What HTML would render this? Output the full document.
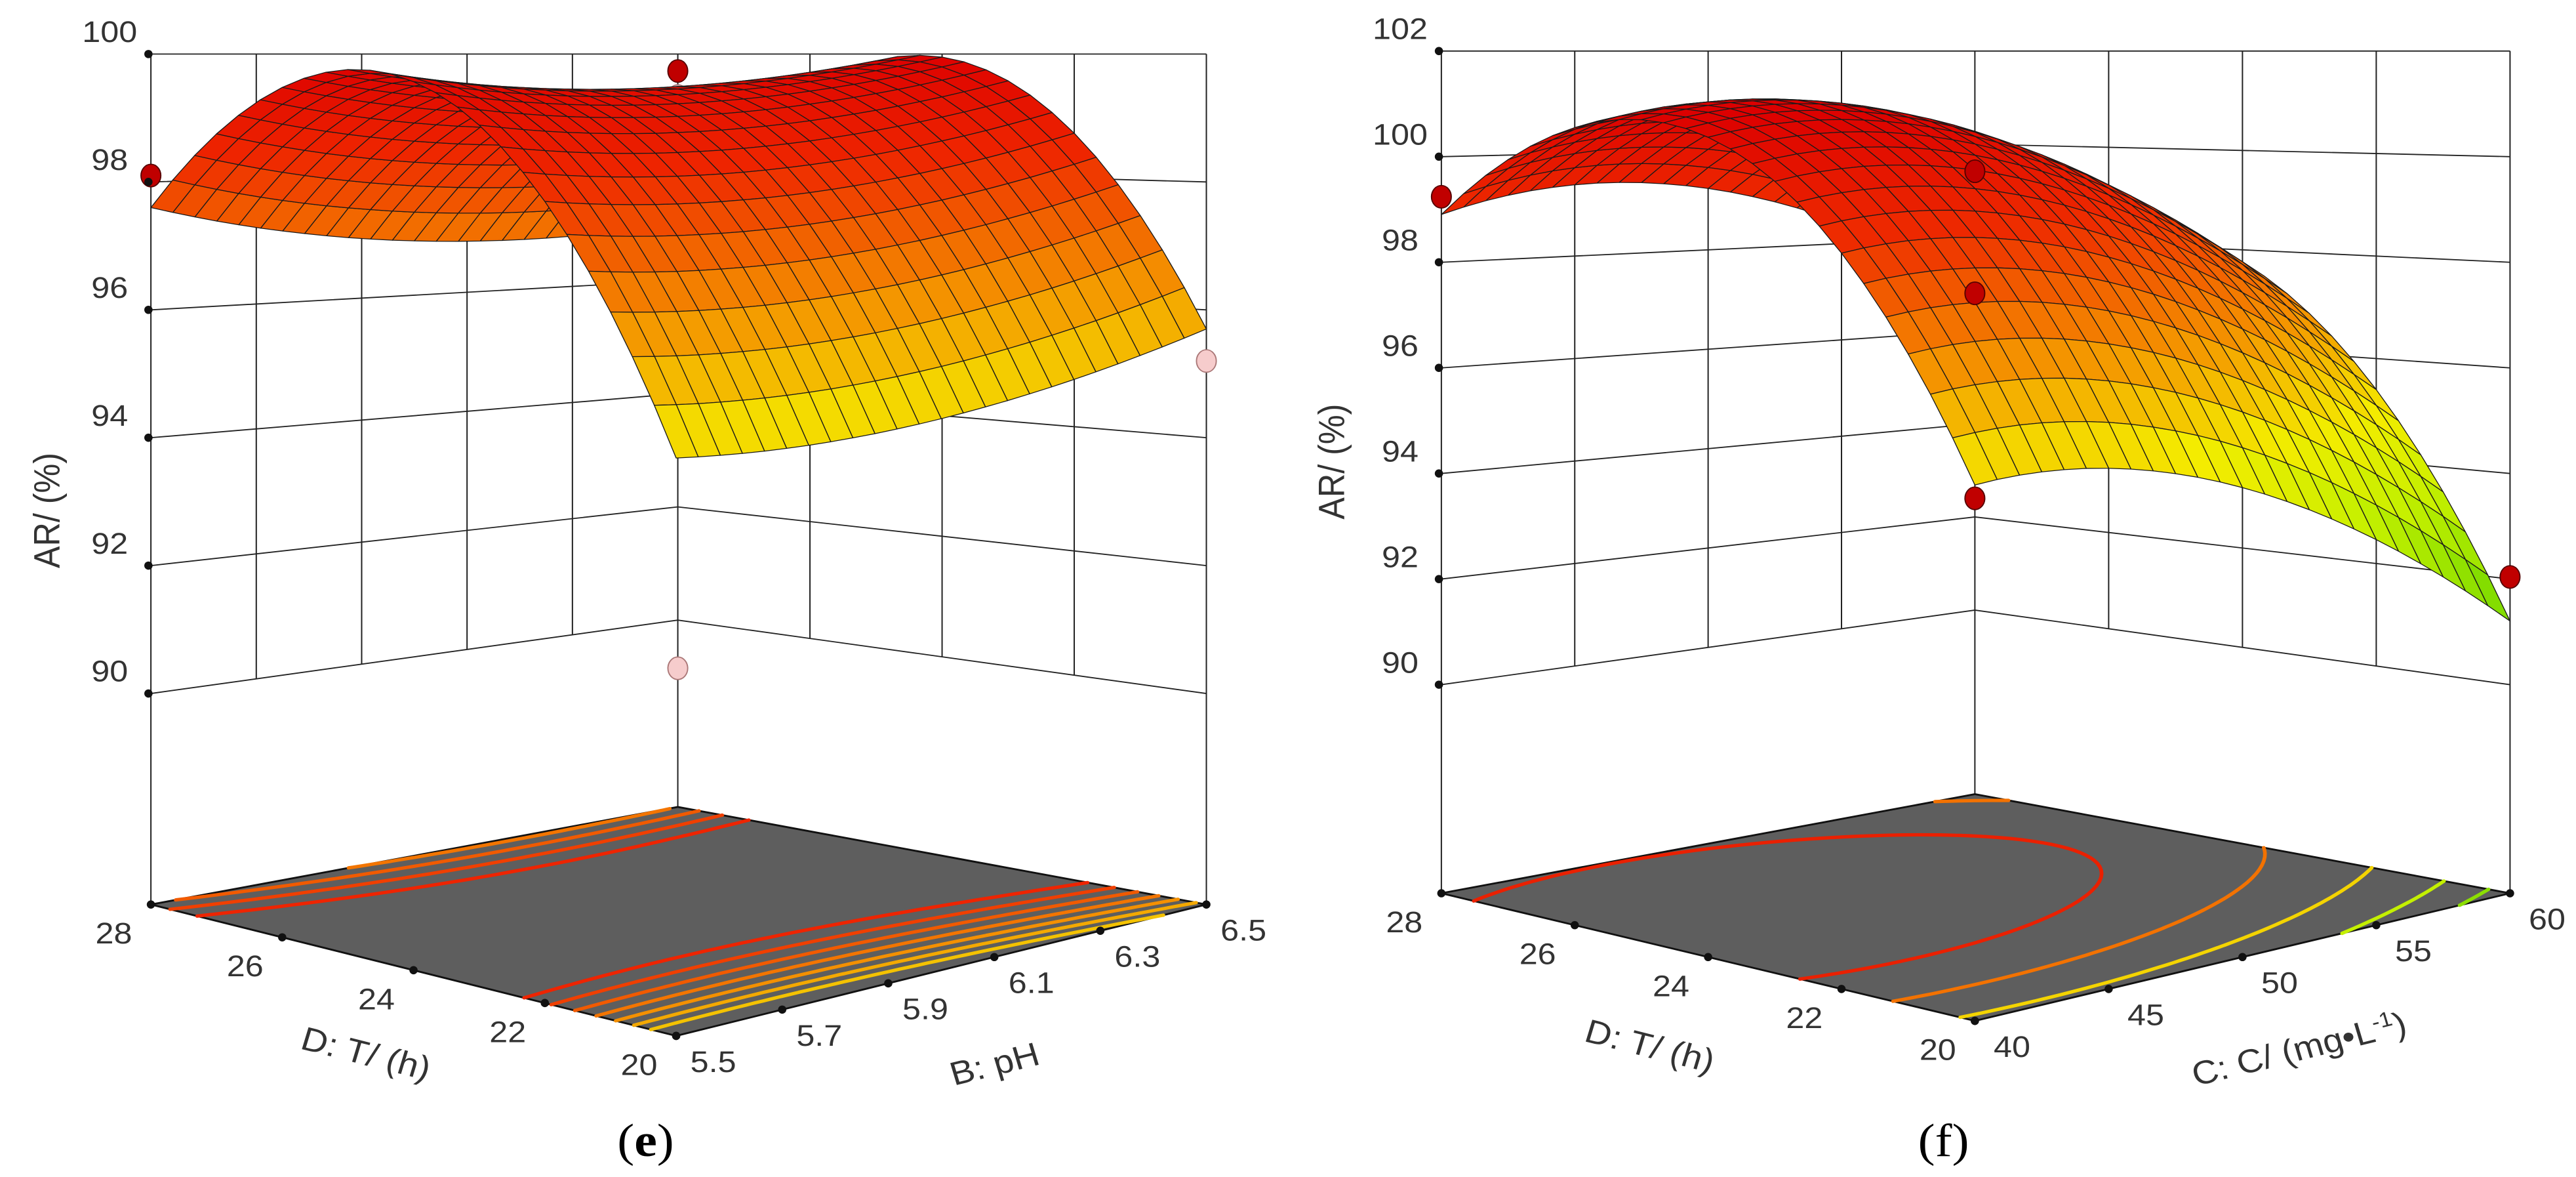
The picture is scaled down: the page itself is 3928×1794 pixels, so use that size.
<!DOCTYPE html>
<html><head><meta charset="utf-8">
<style>
html,body{margin:0;padding:0;background:#fff;}
#wrap{width:3928px;height:1794px;display:flex;overflow:hidden;}
svg{display:block;}
text{font-family:"Liberation Sans",sans-serif;fill:#333;}
</style></head>
<body>
<div id="wrap">
<svg id="pe" viewBox="0 0 1562 1568" preserveAspectRatio="none" width="1964" height="1794"></svg>
<svg id="pf" viewBox="0 0 1562 1568" preserveAspectRatio="none" width="1964" height="1794"></svg>
</div>
<script>
// ---------- Panel (e) data ----------
const eTicksZ = [90, 92, 94, 96, 98, 100];
const eTicksT = [20, 22, 24, 26, 28];
const eTicksPH = [5.5, 5.7, 5.9, 6.1, 6.3, 6.5];
// quadratic model in coded units: [b0, bT, bX, bTX, bTT, bXX]
const eCoef = [99.45, 1.05, 0.1, -0.4, -3.6, 0.4];
const eLevels = [95.5, 96.0, 96.5, 97.0, 97.5, 98.0, 98.5];
const eDotT = [28, 28, 28, 20, 28];
const eDotX = [5.5, 6.5, 6.5, 6.5, 6.5];
const eDotZ = [98.1, 99.7, 99.26, 95.2, 89.15];
const eDotKind = ["red", "red", "pinkhidden", "pink", "pink"];

// ---------- Panel (f) data ----------
const fTicksZ = [90, 92, 94, 96, 98, 100, 102];
const fTicksT = [20, 22, 24, 26, 28];
const fTicksC = [40, 45, 50, 55, 60];
const fCoef = [100.46, 2.425, -1.425, 0.475, -3.65, -1.28];
const fLevels = [92.0, 93.5, 95.5, 97.5, 99.5];
const fDotT = [28, 28, 28, 28, 20];
const fDotX = [40, 60, 60, 60, 60];
const fDotZ = [99.24, 99.42, 96.8, 92.4, 92.04];
const fDotKind = ["red", "red", "red", "red", "red"];

const NS = "http://www.w3.org/2000/svg";
function el(parent, tag, attrs, txt){
  const e = document.createElementNS(NS, tag);
  for (const k in attrs) e.setAttribute(k, attrs[k]);
  if (txt !== undefined) e.textContent = txt;
  parent.appendChild(e);
  return e;
}
function hex2rgb(h){return [parseInt(h.substr(1,2),16),parseInt(h.substr(3,2),16),parseInt(h.substr(5,2),16)];}
function cmap(stops, z){
  if (z <= stops[0][0]) return stops[0][1];
  for (let i=1;i<stops.length;i++){
    if (z <= stops[i][0]){
      const f=(z-stops[i-1][0])/(stops[i][0]-stops[i-1][0]);
      const c0=hex2rgb(stops[i-1][1]), c1=hex2rgb(stops[i][1]);
      return "rgb("+c0.map((v,j)=>Math.round(v+(c1[j]-v)*f)).join(",")+")";
    }
  }
  return stops[stops.length-1][1];
}

function drawPanel(svg, cfg){
  const g = cfg.geo;
  const S = {L:(g.L[1]-g.topY)/(g.ztop-g.zf), R:(g.R[1]-g.topY)/(g.ztop-g.zf), B:(g.B[1]-g.topY)/(g.ztop-g.zf)};
  S.F = S.L*S.R/S.B;
  function P(a,b,z){
    const w=[(1-a)*(1-b), a*(1-b), (1-a)*b, a*b];
    const x=w[0]*g.F[0]+w[1]*g.L[0]+w[2]*g.R[0]+w[3]*g.B[0];
    const yf=w[0]*g.F[1]+w[1]*g.L[1]+w[2]*g.R[1]+w[3]*g.B[1];
    const s=w[0]*S.F+w[1]*S.L+w[2]*S.R+w[3]*S.B;
    return [x, yf-(z-g.zf)*s];
  }
  const aOf = T => (T-cfg.tMin)/(cfg.tMax-cfg.tMin);
  const bOf = X => (X-cfg.xMin)/(cfg.xMax-cfg.xMin);
  const c = cfg.coef;
  function Z(a,b){const x1=2*a-1,x2=2*b-1;return c[0]+c[1]*x1+c[2]*x2+c[3]*x1*x2+c[4]*x1*x1+c[5]*x2*x2;}
  const pt = p => p[0].toFixed(1)+","+p[1].toFixed(1);

  const walls = el(svg,"g",{stroke:"#222","stroke-width":"1.6",fill:"none"});
  
  
  const zLo = cfg.ticksZ[0], zHi = cfg.ticksZ[cfg.ticksZ.length-1];
  cfg.ticksZ.forEach(z=>{
    const l=el(walls,"polyline",{points:[P(1,0,z),P(1,1,z),P(0,1,z)].map(pt).join(" ")});
    
    
  });
  cfg.ticksX.forEach(X=>{ const b=bOf(X); if(b<=0||b>=1) return;
    const l=el(walls,"line",{x1:P(1,b,zLo)[0],y1:P(1,b,zLo)[1],x2:P(1,b,zHi)[0],y2:P(1,b,zHi)[1]});
    
    
  });
  cfg.ticksT.forEach(T=>{ const a=aOf(T); if(a<=0||a>=1) return;
    const l=el(walls,"line",{x1:P(a,1,zLo)[0],y1:P(a,1,zLo)[1],x2:P(a,1,zHi)[0],y2:P(a,1,zHi)[1]});
    
    
  });
  [[1,0],[1,1],[0,1]].forEach(ab=>{
    const p0=P(ab[0],ab[1],g.zf), p1=P(ab[0],ab[1],zHi);
    const l=el(walls,"line",{x1:p0[0],y1:p0[1],x2:p1[0],y2:p1[1]});
    
    
  });

  const floor=el(svg,"polygon",{points:[P(0,0,g.zf),P(1,0,g.zf),P(1,1,g.zf),P(0,1,g.zf)].map(pt).join(" "),fill:"#5e5e5e",stroke:"#111","stroke-width":"2.5"});
  
  
  const cg=el(svg,"g",{"stroke-width":"4.5",fill:"none","stroke-linecap":"round"});
  
  
  const N=60;
  cfg.levels.forEach(lv=>{
    let d="";
    for(let i=0;i<N;i++)for(let j=0;j<N;j++){
      const a0=i/N,a1=(i+1)/N,b0=j/N,b1=(j+1)/N;
      const cs=[[a0,b0],[a1,b0],[a1,b1],[a0,b1]];
      const vs=cs.map(q=>Z(q[0],q[1]));
      const pts=[];
      for(let k=0;k<4;k++){const k2=(k+1)%4;const v0=vs[k],v1=vs[k2];
        if((v0-lv)*(v1-lv)<0){const f=(lv-v0)/(v1-v0);
          pts.push(P(cs[k][0]+(cs[k2][0]-cs[k][0])*f, cs[k][1]+(cs[k2][1]-cs[k][1])*f, g.zf));}}
      for(let k=0;k+1<pts.length;k+=2) d+="M"+pt(pts[k])+"L"+pt(pts[k+1]);
    }
    if(d){const p=el(cg,"path",{d:d,stroke:cmap(cfg.stops,lv)});
      
      }
  });

  function dot(i, parent){
    const a=aOf(cfg.dotT[i]), b=bOf(cfg.dotX[i]); const p=P(a,b,cfg.dotZ[i]);
    const kind=cfg.dotKind[i];
    const fill = kind==="red"?"#c00000":(kind==="pink"?"#f6cccc":"#b8a8b0");
    const e=el(parent,"ellipse",{cx:p[0],cy:p[1],rx:12,ry:15,fill:fill,stroke:kind==="red"?"#500":"#a77","stroke-width":"1.5"});
    
    
  }
  cfg.dotKind.forEach((k,i)=>{ if(k==="pinkhidden") dot(i, svg); });

  const sg=el(svg,"g",{stroke:"#1a1a1a","stroke-width":"1.1","stroke-linejoin":"round"});
  
  
  const M=24, quads=[];
  for(let i=0;i<M;i++)for(let j=0;j<M;j++){
    const a0=i/M,a1=(i+1)/M,b0=j/M,b1=(j+1)/M;
    const zs=[Z(a0,b0),Z(a1,b0),Z(a1,b1),Z(a0,b1)];
    quads.push({depth:a0+a1+b0+b1, pts:[P(a0,b0,zs[0]),P(a1,b0,zs[1]),P(a1,b1,zs[2]),P(a0,b1,zs[3])], z:(zs[0]+zs[1]+zs[2]+zs[3])/4});
  }
  quads.sort((q1,q2)=>q2.depth-q1.depth);
  quads.forEach(q=>{
    const e=el(sg,"polygon",{points:q.pts.map(pt).join(" "),fill:cmap(cfg.stops,q.z)});
    
    
  });
  cfg.dotKind.forEach((k,i)=>{ if(k!=="pinkhidden") dot(i, svg); });

  const tg=el(svg,"g",{});
  
  
  cfg.ticksZ.forEach(z=>{const p=P(1,0,z);
    const d=el(tg,"ellipse",{cx:p[0]-3,cy:p[1],rx:5,ry:5.5,fill:"#111"});
     
    const t=el(tg,"text",{x:p[0]-50,y:p[1]-16,"font-size":"40","text-anchor":"middle"},String(z));
     
  });
  cfg.ticksT.forEach(T=>{const p=P(aOf(T),0,g.zf);
    const d=el(tg,"ellipse",{cx:p[0],cy:p[1],rx:5,ry:5.5,fill:"#111"});
     
    const t=el(tg,"text",{x:p[0]-45,y:p[1]+52,"font-size":"40","text-anchor":"middle"},String(T));
     
  });
  cfg.ticksX.forEach(X=>{const p=P(0,bOf(X),g.zf);
    const d=el(tg,"ellipse",{cx:p[0],cy:p[1],rx:5,ry:5.5,fill:"#111"});
     
    const t=el(tg,"text",{x:p[0]+45,y:p[1]+48,"font-size":"40","text-anchor":"middle"},cfg.fmtX(X));
     
  });
  const yt=el(tg,"text",{x:0,y:0,"font-size":"44","text-anchor":"middle",transform:"translate("+cfg.yTitle[0]+","+cfg.yTitle[1]+") rotate(-90)"},"AR/ (%)");
   
  const tt=el(tg,"text",{x:0,y:0,"font-size":"44","text-anchor":"middle",transform:"translate("+cfg.tTitle[0]+","+cfg.tTitle[1]+") rotate(15.4)"},"D: T/ (h)");
   
  const xt=el(tg,"text",{x:0,y:0,"font-size":"44","text-anchor":"middle",transform:"translate("+cfg.xTitle[0]+","+cfg.xTitle[1]+") rotate(-15.2)"});
  xt.innerHTML=cfg.xTitleHTML;
   
  const cap=el(svg,"text",{x:cfg.cap[0],y:cfg.cap[1],"font-size":"62","text-anchor":"middle",style:"font-family:'Liberation Serif',serif;fill:#000"});
  cap.innerHTML=cfg.capHTML;
   
}

drawPanel(document.getElementById("pe"), {
  geo:{F:[820,1380],L:[183,1205],R:[1463,1205],B:[822,1075],zf:86.7,ztop:100,topY:72},
  tMin:20,tMax:28,xMin:5.5,xMax:6.5,coef:eCoef,levels:eLevels,
  ticksZ:eTicksZ,ticksT:eTicksT,ticksX:eTicksPH,fmtX:v=>v.toFixed(1),
  dotT:eDotT,dotX:eDotX,dotZ:eDotZ,dotKind:eDotKind,
  stops:[[94.5,"#f4f400"],[96.5,"#f49000"],[98.5,"#ee2400"],[100,"#dc0000"]],
  yTitle:[72,680],tTitle:[440,1418],xTitle:[1210,1432],xTitleHTML:"B: pH",
  cap:[783,1540],capHTML:"(<tspan font-weight='bold'>e</tspan>)"
});
drawPanel(document.getElementById("pf"), {
  geo:{F:[833,1360],L:[186,1190],R:[1482,1190],B:[833,1058],zf:86.05,ztop:102,topY:68},
  tMin:20,tMax:28,xMin:40,xMax:60,coef:fCoef,levels:fLevels,
  ticksZ:fTicksZ,ticksT:fTicksT,ticksX:fTicksC,fmtX:v=>String(v),
  dotT:fDotT,dotX:fDotX,dotZ:fDotZ,dotKind:fDotKind,
  stops:[[91,"#66d400"],[93.5,"#c4f000"],[95,"#f4ec00"],[97,"#f48a00"],[99,"#ee2a00"],[101,"#dc0000"]],
  yTitle:[68,615],tTitle:[435,1408],xTitle:[1230,1412],xTitleHTML:"C: C/ (mg•L<tspan dy='-16' font-size='28'>-1</tspan><tspan dy='16'>)</tspan>",
  cap:[795,1540],capHTML:"(f)"
});
</script>
</body></html>
